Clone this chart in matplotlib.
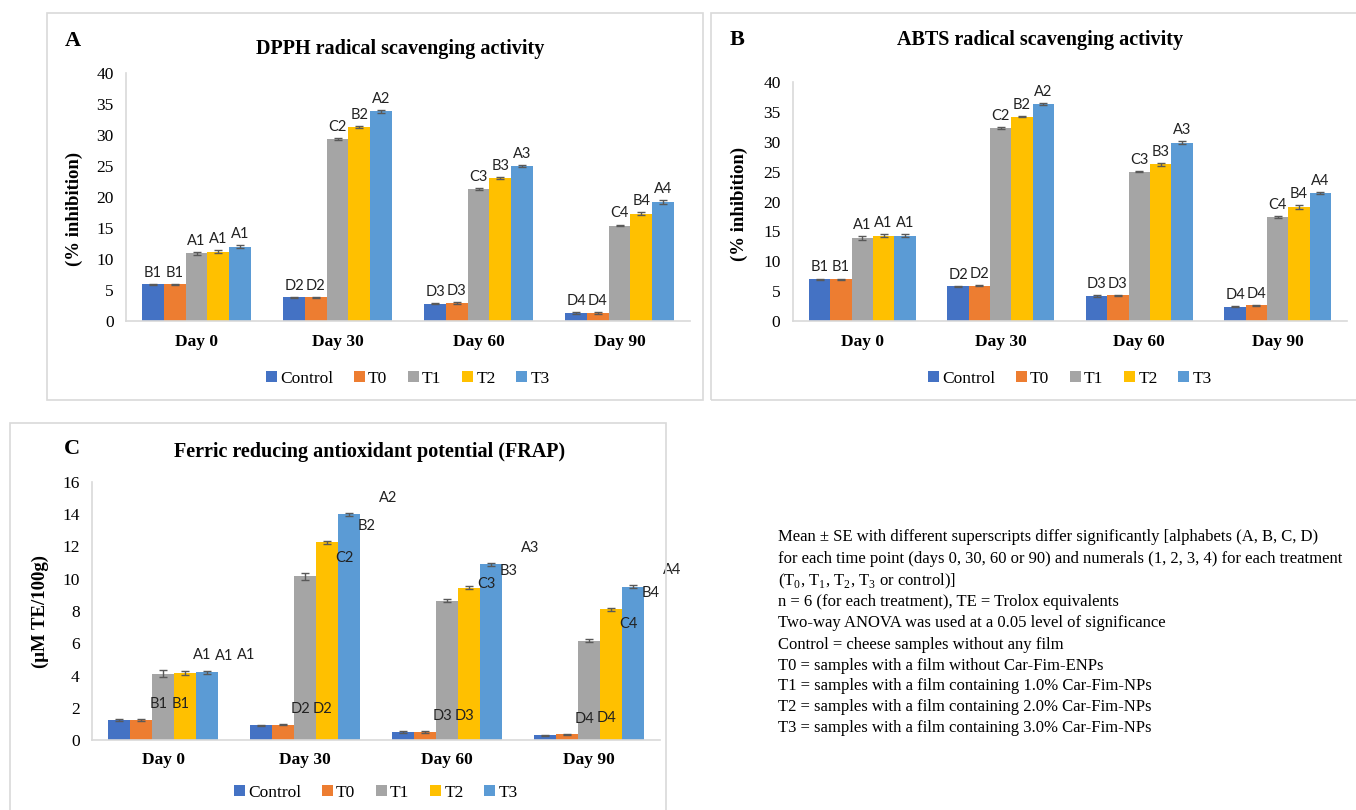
import matplotlib.pyplot as plt
from matplotlib.patches import Rectangle
import numpy as np

plt.rcParams['font.family'] = ['Liberation Serif', 'DejaVu Serif']
plt.rcParams['mathtext.fontset'] = 'custom'
plt.rcParams['mathtext.rm'] = 'Liberation Serif'

days = ["Day 0", "Day 30", "Day 60", "Day 90"]
groups = ["Control", "T0", "T1", "T2", "T3"]
colors = ["#4472C4", "#ED7D31", "#A5A5A5", "#FFC000", "#5B9BD5"]

# DPPH (% inhibition)
dpph = {
    "Control": [5.9, 3.8, 2.8, 1.3],
    "T0": [5.9, 3.8, 2.9, 1.3],
    "T1": [10.9, 29.3, 21.3, 15.4],
    "T2": [11.2, 31.3, 23.0, 17.3],
    "T3": [12.0, 33.8, 25.0, 19.2],
}
dpph_err = {
    "Control": [0.1, 0.1, 0.1, 0.1],
    "T0": [0.1, 0.1, 0.1, 0.1],
    "T1": [0.2, 0.15, 0.15, 0.15],
    "T2": [0.25, 0.2, 0.15, 0.25],
    "T3": [0.25, 0.25, 0.15, 0.25],
}
dpph_lab = {
    "Control": ["B1", "D2", "D3", "D4"],
    "T0": ["B1", "D2", "D3", "D4"],
    "T1": ["A1", "C2", "C3", "C4"],
    "T2": ["A1", "B2", "B3", "B4"],
    "T3": ["A1", "A2", "A3", "A4"],
}

# ABTS (% inhibition)
abts = {
    "Control": [7.0, 5.8, 4.2, 2.4],
    "T0": [7.0, 5.9, 4.3, 2.6],
    "T1": [13.9, 32.3, 25.0, 17.4],
    "T2": [14.3, 34.2, 26.2, 19.1],
    "T3": [14.3, 36.3, 29.8, 21.4],
}
abts_err = {
    "Control": [0.1, 0.1, 0.1, 0.1],
    "T0": [0.1, 0.1, 0.1, 0.1],
    "T1": [0.35, 0.1, 0.1, 0.1],
    "T2": [0.25, 0.1, 0.2, 0.35],
    "T3": [0.25, 0.2, 0.25, 0.2],
}
abts_lab = dpph_lab

# FRAP (uM TE/100g)
frap = {
    "Control": [1.25, 0.9, 0.5, 0.3],
    "T0": [1.25, 0.95, 0.5, 0.35],
    "T1": [4.1, 10.15, 8.65, 6.15],
    "T2": [4.15, 12.25, 9.45, 8.1],
    "T3": [4.2, 14.0, 10.9, 9.5],
}
frap_err = {
    "Control": [0.05, 0.05, 0.05, 0.04],
    "T0": [0.05, 0.05, 0.05, 0.04],
    "T1": [0.22, 0.2, 0.1, 0.1],
    "T2": [0.1, 0.08, 0.08, 0.08],
    "T3": [0.1, 0.08, 0.08, 0.1],
}
frap_lab = {
    "Control": ["B1", "D2", "D3", "D4"],
    "T0": ["B1", "D2", "D3", "D4"],
    "T1": ["A1", "C2", "C3", "C4"],
    "T2": ["A1", "B2", "B3", "B4"],
    "T3": ["A1", "A2", "A3", "A4"],
}

notes = [
    "Mean \u00b1 SE with different superscripts differ significantly [alphabets (A, B, C, D)",
    "for each time point (days 0, 30, 60 or 90) and numerals (1, 2, 3, 4) for each treatment",
    "(T$_0$, T$_1$, T$_2$, T$_3$ or control)]",
    "n = 6 (for each treatment), TE = Trolox equivalents",
    "Two-way ANOVA was used at a 0.05 level of significance",
    "Control = cheese samples without any film",
    "T0 = samples with a film without Car-Fim-ENPs",
    "T1 = samples with a film containing 1.0% Car-Fim-NPs",
    "T2 = samples with a film containing 2.0% Car-Fim-NPs",
    "T3 = samples with a film containing 3.0% Car-Fim-NPs",
]

W, H = 1356, 810
fig = plt.figure(figsize=(W / 100, H / 100), dpi=100)


def px_axes(l, r, top, bot):
    return fig.add_axes([l / W, 1 - bot / H, (r - l) / W, (bot - top) / H])


def frame(l, r, top, bot):
    fig.patches.append(Rectangle((l / W, 1 - bot / H), (r - l) / W, (bot - top) / H,
                                 transform=fig.transFigure, fill=False,
                                 edgecolor="#D9D9D9", lw=1.2))


def panel(ax, vals, errs, labs, ymax, ystep, ylabel, shift=0.0, lab_off=3):
    x = np.arange(len(days))
    w = 0.77 / len(groups)
    for i, g in enumerate(groups):
        pos = x + (i - 2) * w
        ax.bar(pos, vals[g], w, color=colors[i], label=g, zorder=2)
        ax.errorbar(pos, vals[g], yerr=errs[g], fmt="none", ecolor="#595959",
                    elinewidth=1, capsize=3, capthick=1, zorder=3)
        for p, v, e, t in zip(pos, vals[g], errs[g], labs[g]):
            ax.annotate(t, (p + shift * w, v + e), xytext=(0, lab_off),
                        textcoords="offset points", ha="center", va="bottom",
                        fontsize=10.5, family=["Lato", "DejaVu Sans"], color="#222222",
                        annotation_clip=False)
    ax.set_xlim(-0.5, len(days) - 0.5)
    ax.set_ylim(0, ymax)
    ax.set_yticks(np.arange(0, ymax + 0.01, ystep))
    ax.set_xticks(x)
    ax.set_xticklabels(days, fontweight="bold", fontsize=12.5)
    ax.tick_params(axis="both", length=0, labelsize=12.5)
    ax.tick_params(axis="x", pad=9)
    ax.tick_params(axis="y", pad=9)
    for s in ["top", "right"]:
        ax.spines[s].set_visible(False)
    for s in ["left", "bottom"]:
        ax.spines[s].set_color("#D9D9D9")
        ax.spines[s].set_linewidth(1.2)
    ax.set_ylabel(ylabel, fontweight="bold", fontsize=13.5)
    ax.set_facecolor("none")


def add_legend(ax, ypos):
    ax.legend(loc="center", bbox_to_anchor=(0.5, ypos), ncol=5, frameon=False,
              handlelength=0.6, handleheight=0.6, handletextpad=0.2,
              columnspacing=1.2, fontsize=12.5)


# panel A
frame(47, 703, 13, 400)
axA = px_axes(126, 690, 73, 321)
panel(axA, dpph, dpph_err, dpph_lab, 40, 5, "(% inhibition)")
axA.yaxis.set_label_coords(-0.076, 0.45)
add_legend(axA, -0.234)
fig.text(73 / W, 1 - 41 / H, "A", fontsize=16, fontweight="bold", va="center", ha="center")
fig.text(400 / W, 1 - 49 / H, "DPPH radical scavenging activity", fontsize=14.5,
         fontweight="bold", va="center", ha="center")

# panel B
frame(711, 1358, 13, 400)
axB = px_axes(793, 1347, 82, 321)
panel(axB, abts, abts_err, abts_lab, 40, 5, "(% inhibition)")
axB.yaxis.set_label_coords(-0.081, 0.49)
add_legend(axB, -0.243)
fig.text(737 / W, 1 - 40 / H, "B", fontsize=16, fontweight="bold", va="center", ha="center")
fig.text(1040 / W, 1 - 40 / H, "ABTS radical scavenging activity", fontsize=14.5,
         fontweight="bold", va="center", ha="center")

# panel C
frame(10, 666, 423, 812)
axC = px_axes(92, 660, 482, 740)
panel(axC, frap, frap_err, frap_lab, 16, 2, "(\u03bcM TE/100g)", shift=1.8, lab_off=6)
axC.yaxis.set_label_coords(-0.075, 0.5)
add_legend(axC, -0.205)
fig.text(72 / W, 1 - 449 / H, "C", fontsize=16, fontweight="bold", va="center", ha="center")
fig.text(370 / W, 1 - 452 / H, "Ferric reducing antioxidant potential (FRAP)", fontsize=14.5,
         fontweight="bold", va="center", ha="center")

# notes
line_y = [537, 559, 581, 602, 623, 645, 666, 686, 707, 728]
for yy, t in zip(line_y, notes):
    fig.text(778 / W, 1 - yy / H, t, fontsize=12, va="center", ha="left")

fig.savefig("out.png", dpi=100)
